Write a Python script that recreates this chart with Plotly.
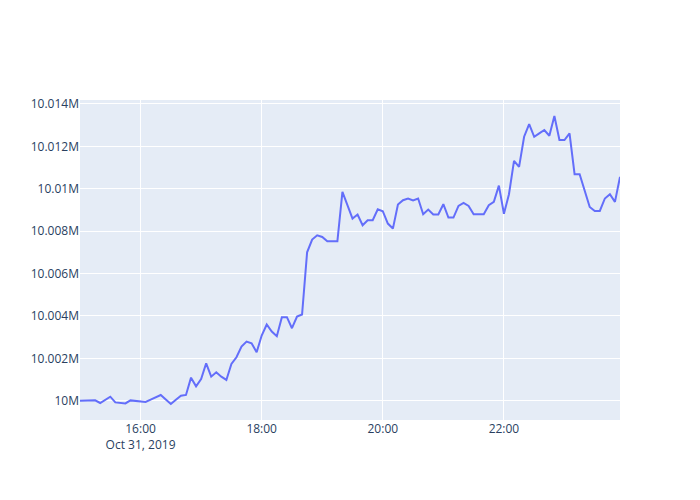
import pandas as pd
import plotly.graph_objects as go

# 5-minute samples, Oct 31 2019, 15:00 -> 23:55
start = "2019-10-31 15:00"
step = "5min"

offsets = [
    0, 0, 0, 20, -109, 47, 189, -80, -118, -128,
    14, 0, -14, -61, 47, 156, 270, 57, -156, 47,
    237, 270, 1088, 676, 1026, 1764, 1135, 1339, 1135, 979,
    1736, 2048, 2554, 2791, 2710, 2285, 3075, 3595, 3264, 3041,
    3940, 3940, 3420, 3973, 4068, 7000, 7601, 7805, 7724, 7521,
    7521, 7521, 9853, 9224, 8595, 8784, 8278, 8514, 8514, 9034,
    8940, 8358, 8121, 9257, 9460, 9541, 9446, 9541, 8798, 9020,
    8784, 8784, 9271, 8642, 8642, 9190, 9332, 9190, 8798, 8798,
    8798, 9224, 9380, 10146, 8821, 9744, 11319, 11035, 12454, 13055,
    12454, 12615, 12771, 12502, 13433, 12298, 12298, 12615, 10690, 10690,
    9933, 9143, 8954, 8954, 9541, 9744, 9380, 10562,
]
base = 10_000_000
values = [base + o for o in offsets]
times = pd.date_range(start, periods=len(values), freq=step)

fig = go.Figure()
fig.add_trace(go.Scatter(x=times, y=values, mode='lines'))
fig.update_layout(width=700, height=500)

# drop the page's default body margin so the figure sits at the top-left corner
fig.write_html("out.html",
               config={'displayModeBar': False},
               post_script="document.body.style.margin = '0';")
